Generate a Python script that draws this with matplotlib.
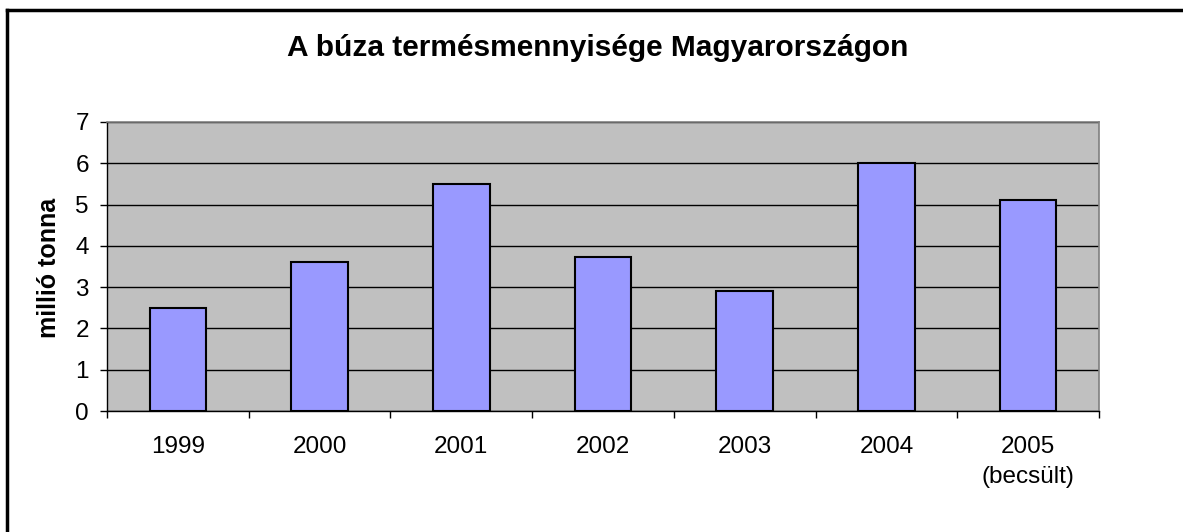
import matplotlib.pyplot as plt
from matplotlib.lines import Line2D
import numpy as np

plt.rcParams['font.family'] = ['Liberation Sans', 'DejaVu Sans']

years = ["1999", "2000", "2001", "2002", "2003", "2004", "2005\n(becsült)"]
wheat = [2.5, 3.6, 5.5, 3.73, 2.9, 6.0, 5.1]
title = "A búza termésmennyisége Magyarországon"
ylabel = "millió tonna"

fig = plt.figure(figsize=(11.83, 5.32), dpi=100)
ax = fig.add_axes([107 / 1183, 1 - 411 / 532, 992 / 1183, 289 / 532])

x = np.arange(len(years))
ax.set_facecolor("#C0C0C0")
ax.yaxis.grid(True, color="black", linewidth=1)
ax.set_axisbelow(True)
ax.bar(x, wheat, width=0.4, color="#9999FF", edgecolor="black", linewidth=1.5, zorder=3)

ax.set_xlim(-0.5, len(years) - 0.5)
ax.set_ylim(0, 7)
ax.set_yticks(range(0, 8))
ax.tick_params(axis="y", labelsize=17.5, length=5, width=1, pad=8, direction="out")

ax.set_xticks(x)
ax.set_xticklabels(years, fontsize=17.5, linespacing=1.45, va="top")
ax.set_xticks(np.arange(-0.5, len(years)), minor=True)
ax.tick_params(axis="x", which="major", length=0, pad=18)
ax.tick_params(axis="x", which="minor", length=5, width=1, direction="out")

for s in ["top", "right"]:
    ax.spines[s].set_color("#808080")
    ax.spines[s].set_linewidth(1.2)
for s in ["left", "bottom"]:
    ax.spines[s].set_color("black")
    ax.spines[s].set_linewidth(1)

fig.text(598 / 1183, 1 - 56 / 532, title, ha="center", va="baseline",
         fontsize=21.5, fontweight="bold")
fig.text(49 / 1183, 1 - 268 / 532, ylabel, ha="center", va="center",
         rotation=90, fontsize=18, fontweight="bold")

# chart frame (only top and left edges visible)
fig.add_artist(Line2D([6.5 / 1183, 1], [1 - 10 / 532, 1 - 10 / 532],
                      transform=fig.transFigure, color="black", linewidth=2.5))
fig.add_artist(Line2D([6.5 / 1183, 6.5 / 1183], [0, 1 - 10 / 532],
                      transform=fig.transFigure, color="black", linewidth=2.5))

fig.savefig("out.png", dpi=100)
